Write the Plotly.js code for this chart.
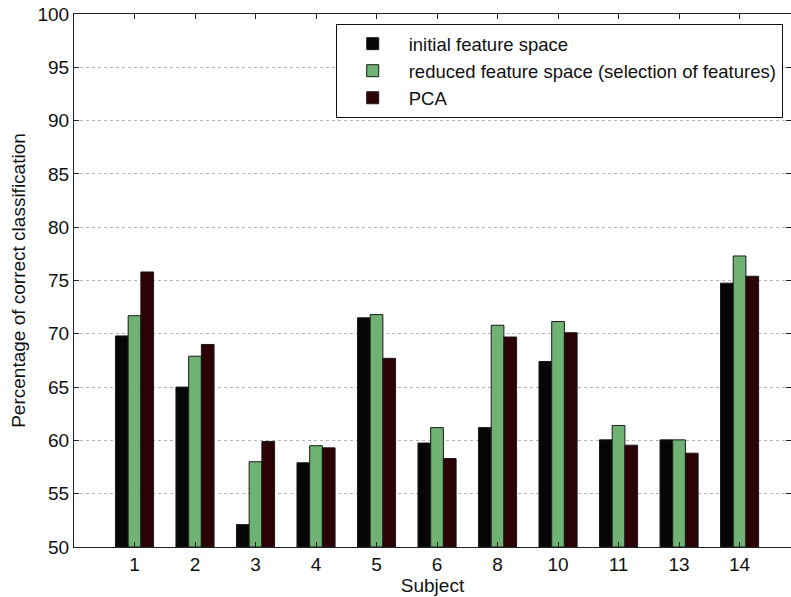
<!DOCTYPE html>
<html>
<head>
<meta charset="utf-8">
<script src="https://cdn.plot.ly/plotly-3.0.1.min.js"></script>
<style>html,body{margin:0;padding:0;background:#fff;}#chart{width:791px;height:597px;}</style>
</head>
<body>
<div id="chart"></div>
<script>
var subjects = ["1", "2", "3", "4", "5", "6", "8", "10", "11", "13", "14"];
var initialSpace = [69.8, 65.0, 52.1, 57.9, 71.5, 59.75, 61.2, 67.4, 60.05, 60.05, 74.75];
var reducedSpace = [71.7, 67.9, 58.0, 59.5, 71.8, 61.2, 70.8, 71.15, 61.4, 60.05, 77.3];
var pcaValues = [75.8, 69.0, 59.9, 59.3, 67.7, 58.3, 69.7, 70.1, 59.55, 58.8, 75.4];
var seriesNames = ["initial feature space", "reduced feature space (selection of features)", "PCA"];

var positions = subjects.map(function (s, i) { return i + 1; });
var FONT = "Liberation Sans, Arial, Helvetica, sans-serif";
var BASE = 50;

function mk(vals, name, color) {
  return {
    type: "bar", x: positions,
    y: vals.map(function (v) { return v - BASE; }),
    base: BASE, name: name,
    marker: {color: color, line: {color: "#1a1a1a", width: 1}}
  };
}
var traces = [
  mk(initialSpace, seriesNames[0], "#060606"),
  mk(reducedSpace, seriesNames[1], "#70b273"),
  mk(pcaValues, seriesNames[2], "#2b0306")
];

var layout = {
  width: 791, height: 597,
  margin: {l: 74, r: 0, t: 14, b: 50},
  paper_bgcolor: "#fff", plot_bgcolor: "#fff",
  barmode: "group", bargap: 0.37, bargroupgap: 0,
  showlegend: true,
  font: {family: FONT, color: "#111", size: 18},
  xaxis: {
    range: [0, 11.85],
    tickmode: "array", tickvals: positions, ticktext: subjects,
    ticks: "inside", ticklen: 5, tickcolor: "#222",
    showline: true, linecolor: "#222", linewidth: 1, mirror: "ticks",
    showgrid: false, zeroline: false,
    tickfont: {size: 19, family: FONT},
    title: {text: "Subject", font: {size: 19, family: FONT}, standoff: 0}
  },
  yaxis: {
    range: [50, 100],
    tickvals: [50, 55, 60, 65, 70, 75, 80, 85, 90, 95, 100],
    ticks: "inside", ticklen: 5, tickcolor: "#222",
    showline: true, linecolor: "#222", linewidth: 1, mirror: "ticks",
    showgrid: true, gridcolor: "#b5b5b5", griddash: "dot", gridwidth: 1,
    zeroline: false,
    tickfont: {size: 19, family: FONT},
    title: {text: "Percentage of correct classification", font: {size: 19, family: FONT}, standoff: 6}
  },
  legend: {
    x: 0.365, xanchor: "left", y: 0.981, yanchor: "top",
    bgcolor: "#fff", bordercolor: "#111", borderwidth: 1,
    font: {size: 18.5, family: FONT},
    tracegroupgap: 0, itemwidth: 62
  }
};

Plotly.newPlot("chart", traces, layout, {displayModeBar: false, staticPlot: true});
</script>
</body>
</html>
